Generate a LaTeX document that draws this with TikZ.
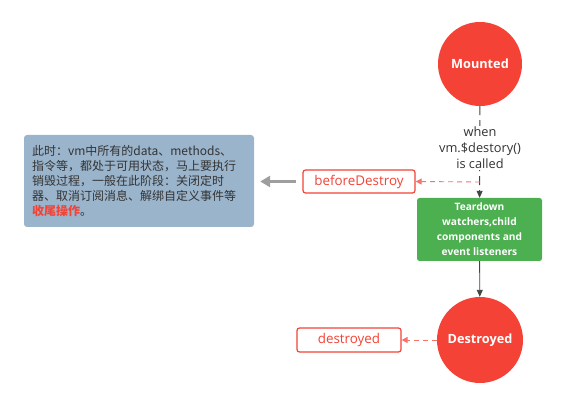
\documentclass[tikz,border=0pt]{standalone}
\usepackage{fontspec}
\setmainfont{Open Sans}
\newfontfamily\cjk{Noto Sans CJK SC}
\usetikzlibrary{arrows.meta}
\definecolor{vred}{HTML}{F44336}
\definecolor{vgreen}{HTML}{4CAF50}
\definecolor{vblue}{HTML}{9AB4CB}
\definecolor{vtext}{HTML}{333333}
\definecolor{vdark}{HTML}{444444}
\definecolor{vgray}{HTML}{9E9E9E}
\tikzset{
  statecircle/.style={circle, fill=vred, minimum size=84pt, inner sep=0pt, text=white, font=\fontsize{12.7}{14}\selectfont\bfseries},
  hookbox/.style={draw=vred, line width=1.2pt, rounded corners=2.5pt, fill=white, text=vred, inner sep=0pt, font=\fontsize{13.4}{15}\selectfont},
  actionbox/.style={fill=vgreen, rounded corners=2.5pt, text=white, inner sep=0pt, align=center, font=\fontsize{10.2}{15}\selectfont\bfseries},
  notebox/.style={fill=vblue, rounded corners=3pt, text=vtext, inner sep=0pt, align=left, font=\cjk\fontsize{12}{15}\selectfont},
  flow/.style={vdark, line width=0.9pt, -{Triangle[length=7pt,width=6pt]}},
  hookarrow/.style={vred!75, line width=0.9pt, dashed, dash pattern=on 5pt off 4pt, -{Triangle[length=6pt,width=6pt]}},
}
\begin{document}
\begin{tikzpicture}[x=1pt,y=-1pt]
\useasboundingbox (0,0) rectangle (565,406);
\node[statecircle] (mounted) at (480,64) {Mounted};
\node[statecircle, minimum size=86pt] (destroyed) at (480,340) {Destroyed};
\node[actionbox, minimum width=125pt, minimum height=63pt] (teardown) at (479.5,229.5) {Teardown\\watchers,child\\components and\\event listeners};
\node[hookbox, minimum width=112pt, minimum height=23pt] (before) at (359,181.5) {beforeDestroy};
\node[hookbox, minimum width=104pt, minimum height=24pt] (dest) at (349,340) {destroyed};
\node[notebox, minimum width=230pt, minimum height=92pt, text width=214pt] (note) at (139,181) {此时：vm中所有的data、methods、\\指令等，都处于可用状态，马上要执行\\销毁过程，一般在此阶段：关闭定时\\器、取消订阅消息、解绑自定义事件等\\{\color{vred}\bfseries 收尾操作}。};
\coordinate (split) at (480,182);
\draw[flow, dashed, dash pattern=on 9pt off 5pt] (mounted) -- (teardown);
\node[fill=white, inner sep=1pt, align=center, text=vtext, font=\fontsize{12.8}{16}\selectfont] (when) at (480,148) {when\\vm.\$destory()\\is called};
\draw[hookarrow] (split) -- (before.east);
\draw[flow] (teardown) -- (destroyed);
\draw[hookarrow] (destroyed) -- (dest.east);
\draw[vgray, line width=3pt, -{Triangle[length=10pt,width=11pt]}, shorten <=6pt, shorten >=6pt] (before.west) -- (note.east |- before.west);
\end{tikzpicture}
\end{document}
